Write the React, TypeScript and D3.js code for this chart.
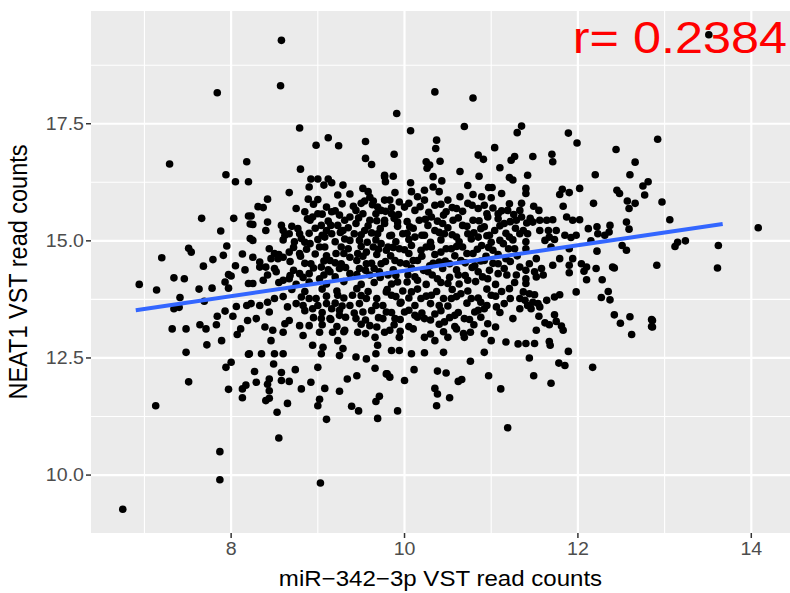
import React from 'react';
import * as d3 from 'd3';

// points, grouped by area of the panel
const leftPoints: [number, number][] = [
  [7.84, 18.16], [7.29, 16.64], [7.94, 16.41], [8.18, 16.69], [8.05, 16.26], [8.2, 16.26],
  [7.66, 15.48], [8.03, 15.48], [8.2, 15.53], [7.88, 15.21], [8.22, 15.36], [7.51, 14.84],
  [7.54, 14.76], [7.2, 14.64], [7.79, 14.6], [7.91, 14.69], [7.95, 14.89], [7.68, 14.46],
  [8.05, 14.47], [8.13, 14.72], [8.22, 15.05], [8.16, 14.38], [6.94, 14.07], [7.14, 13.95],
  [7.34, 14.21], [7.46, 14.19], [7.63, 13.97], [7.78, 13.99], [7.93, 14.12], [7.97, 14.28],
  [8.0, 14.25], [7.97, 13.99], [8.2, 14.09], [7.41, 13.79], [7.69, 13.71], [7.34, 13.55],
  [7.4, 13.58], [7.93, 13.5], [8.06, 13.6], [8.18, 13.62], [7.84, 13.39], [8.02, 13.39],
  [8.19, 13.3], [7.32, 13.12], [7.48, 13.12], [7.64, 13.21], [7.71, 13.12], [7.83, 13.21],
  [8.11, 13.12], [8.07, 13.0], [7.72, 12.78], [7.89, 12.87], [7.48, 12.62], [8.2, 12.58],
  [8.0, 12.41], [7.94, 12.3], [7.51, 11.99], [7.97, 11.83], [8.13, 11.84], [8.17, 11.92],
  [8.13, 11.65], [7.13, 11.48], [7.87, 10.5], [7.87, 9.9], [6.75, 9.27],
];

const upperMidPoints: [number, number][] = [
  [8.58, 19.28], [8.57, 18.31], [8.79, 17.41], [8.98, 17.04], [9.12, 17.2], [9.24, 17.03],
  [9.55, 17.12], [9.55, 16.76], [9.62, 16.63], [8.8, 16.53], [9.77, 16.37], [9.78, 16.26],
  [8.92, 16.32], [9.0, 16.32], [9.12, 16.32], [9.16, 16.24], [9.29, 16.19], [8.9, 16.15],
  [9.07, 16.19], [8.67, 16.03], [8.89, 15.89], [9.0, 15.88], [9.23, 15.98], [9.37, 16.0],
  [9.52, 16.12], [9.58, 16.05], [9.6, 15.93], [9.54, 15.85], [9.64, 15.85], [8.42, 15.89],
  [8.31, 15.73], [8.37, 15.71], [8.75, 15.69], [8.23, 15.53], [8.25, 15.35], [8.42, 15.4],
  [8.4, 15.22], [8.58, 15.33], [8.6, 15.22], [8.67, 15.15], [8.62, 15.12], [8.77, 15.26],
  [8.79, 15.15], [8.81, 15.05], [8.73, 14.98], [8.91, 15.44], [8.94, 15.51], [9.0, 15.58],
  [9.16, 15.62], [9.25, 15.55], [9.04, 15.33], [9.1, 15.22], [9.08, 15.08], [9.16, 15.15],
  [9.23, 15.33], [9.29, 15.22], [9.31, 15.44], [9.37, 15.51], [9.44, 15.37], [9.42, 15.15],
  [9.37, 15.01], [9.48, 15.01], [9.54, 15.22], [9.6, 15.44], [9.67, 15.58], [9.73, 15.65],
  [9.77, 15.37], [9.69, 15.15], [9.73, 14.94], [9.79, 14.8], [9.64, 14.87], [9.56, 14.76],
  [9.46, 14.73], [9.37, 14.65], [9.27, 14.87], [9.21, 14.73], [9.14, 14.58], [9.02, 14.87],
  [8.91, 14.94], [8.79, 14.73], [8.67, 14.76], [8.6, 14.65], [8.5, 14.73], [8.44, 14.83],
  [8.46, 14.62], [8.54, 14.62], [8.33, 14.55], [8.25, 14.65], [8.25, 15.01], [8.33, 14.44],
  [8.4, 14.44], [8.92, 14.51], [9.04, 14.44], [9.27, 14.51], [9.56, 14.51], [9.73, 14.51],
  [9.44, 15.65], [9.5, 15.8], [9.69, 15.72], [9.77, 15.87],
];

const lowerMidPoints: [number, number][] = [
  [8.37, 14.16], [8.42, 14.27], [8.52, 14.34], [8.6, 14.16], [8.67, 14.19], [8.79, 14.3],
  [8.9, 14.3], [9.02, 14.19], [9.14, 14.34], [9.25, 14.41], [9.37, 14.3], [9.48, 14.41],
  [9.6, 14.27], [9.71, 14.34], [8.25, 14.09], [8.23, 13.66], [8.33, 13.62], [8.42, 13.69],
  [8.5, 13.77], [8.44, 13.48], [8.29, 13.34], [8.39, 13.16], [8.48, 13.09], [8.46, 12.87],
  [8.6, 13.05], [8.62, 13.23], [8.65, 13.59], [8.67, 13.3], [8.81, 13.8], [8.83, 13.62],
  [8.79, 13.19], [8.83, 12.98], [8.9, 13.19], [8.94, 13.55], [8.98, 13.77], [8.94, 12.77],
  [9.04, 13.34], [9.02, 13.05], [9.06, 12.73], [9.1, 13.66], [9.14, 13.34], [9.17, 13.05],
  [9.16, 13.55], [9.23, 13.84], [9.25, 13.41], [9.23, 12.87], [9.29, 12.7], [9.31, 13.09],
  [9.37, 13.62], [9.4, 13.84], [9.44, 13.34], [9.46, 13.05], [9.52, 13.48], [9.56, 13.77],
  [9.6, 13.19], [9.67, 13.62], [9.66, 12.94], [9.69, 12.77], [9.75, 13.34], [9.77, 13.05],
  [9.79, 13.91], [8.21, 12.59], [8.35, 12.59], [8.5, 12.59], [8.6, 12.59], [9.04, 12.59],
  [9.25, 12.55], [9.44, 12.52], [9.56, 12.48], [9.67, 12.59], [8.49, 12.37], [8.27, 12.21],
  [8.58, 12.19], [8.29, 11.98], [8.42, 11.94], [8.44, 11.8], [8.58, 12.02], [8.67, 12.0],
  [8.74, 12.25], [8.81, 11.84], [8.92, 11.98], [9.0, 12.3], [9.08, 11.85], [9.02, 11.62],
  [9.0, 11.48], [9.1, 11.19], [9.25, 11.79], [9.34, 12.05], [9.45, 12.12], [9.66, 12.28],
  [9.79, 12.16], [9.39, 11.47], [9.47, 11.37], [9.67, 11.57], [9.71, 11.68], [9.69, 11.21],
  [8.4, 11.59], [8.44, 11.64], [8.65, 11.53], [8.53, 11.34], [8.55, 10.79], [9.03, 9.83],
  [8.44, 12.05],
];

const upperCenterPoints: [number, number][] = [
  [9.91, 17.72], [10.35, 18.18], [10.79, 18.05], [10.07, 17.35], [10.69, 17.44], [11.35, 17.45],
  [11.3, 17.31], [10.37, 17.15], [10.36, 16.97], [9.88, 16.85], [10.25, 16.69], [10.29, 16.62],
  [10.26, 16.55], [10.41, 16.7], [10.64, 16.48], [10.85, 16.83], [10.91, 16.74], [11.04, 16.99],
  [11.1, 16.56], [10.86, 16.38], [11.23, 16.72], [11.27, 16.8], [11.21, 16.35], [11.25, 16.3],
  [9.77, 16.4], [9.87, 16.38], [10.07, 16.24], [10.33, 16.37], [10.43, 16.28], [10.73, 16.18],
  [10.97, 16.14], [11.01, 16.14], [11.12, 16.01], [10.79, 15.99], [10.64, 15.94], [11.0, 15.92],
  [9.89, 16.03], [10.08, 16.05], [10.23, 16.08], [10.33, 16.15], [10.4, 16.05], [9.83, 15.87],
  [9.94, 15.83], [10.15, 15.94], [10.5, 15.87], [10.89, 15.94], [10.92, 15.76], [11.35, 15.8],
  [11.19, 15.65], [11.08, 15.58], [10.96, 15.51], [10.85, 15.69], [10.73, 15.8], [10.6, 15.69],
  [10.48, 15.62], [10.35, 15.76], [10.23, 15.87], [10.12, 15.65], [10.0, 15.72], [9.85, 15.58],
  [9.77, 15.44], [9.92, 15.4], [10.06, 15.3], [10.17, 15.44], [10.31, 15.51], [10.44, 15.37],
  [10.56, 15.44], [10.67, 15.33], [10.79, 15.44], [10.92, 15.3], [11.04, 15.22], [11.15, 15.37],
  [11.29, 15.44], [11.33, 15.15], [11.21, 15.08], [11.1, 15.01], [10.98, 15.12], [10.85, 15.08],
  [10.73, 15.15], [10.6, 15.08], [10.46, 15.15], [10.35, 15.22], [10.23, 15.12], [10.12, 15.08],
  [9.98, 15.15], [9.85, 15.12], [9.81, 14.87], [9.94, 14.83], [10.08, 14.9], [10.19, 14.8],
  [10.31, 14.87], [10.42, 14.76], [10.54, 14.83], [10.67, 14.87], [10.79, 14.73], [10.89, 14.9],
  [11.02, 14.8], [11.14, 14.94], [11.27, 14.83], [9.89, 14.58], [10.02, 14.51], [10.15, 14.58],
  [10.29, 14.47], [10.4, 14.55], [10.52, 14.51], [10.65, 14.58], [10.81, 14.47], [10.92, 14.58],
  [11.08, 14.51], [11.17, 14.62],
];

const lowerCenterPoints: [number, number][] = [
  [9.81, 14.27], [9.92, 14.12], [10.04, 14.27], [10.15, 14.16], [10.27, 14.34], [10.38, 14.19],
  [10.5, 14.09], [10.62, 14.27], [10.73, 14.16], [10.85, 14.34], [10.96, 14.19], [11.08, 14.3],
  [11.21, 13.98], [11.29, 14.27], [9.85, 13.84], [9.96, 13.69], [10.08, 13.91], [10.19, 13.77],
  [10.31, 13.84], [10.4, 13.62], [10.54, 13.77], [10.65, 13.87], [10.77, 13.77], [10.88, 13.69],
  [11.0, 13.84], [11.06, 13.59], [10.92, 13.55], [10.81, 13.48], [10.69, 13.34], [10.58, 13.41],
  [10.46, 13.27], [10.35, 13.44], [10.23, 13.34], [10.12, 13.41], [10.0, 13.48], [9.89, 13.34],
  [9.79, 13.48], [9.83, 13.09], [9.94, 12.94], [10.1, 13.12], [10.23, 12.94], [10.35, 12.87],
  [10.5, 12.94], [10.6, 13.12], [10.69, 12.94], [10.76, 13.05], [10.92, 13.02], [10.96, 13.23],
  [11.0, 12.87], [10.92, 12.62], [11.17, 12.84], [11.25, 13.34], [11.31, 12.8], [11.33, 13.55],
  [9.85, 12.66], [9.94, 12.66], [10.08, 12.59], [10.23, 12.61], [10.45, 12.62], [10.76, 12.43],
  [9.8, 12.16], [9.83, 12.09], [10.0, 12.02], [10.11, 12.25], [10.38, 12.22], [10.48, 12.18],
  [10.62, 12.0], [10.66, 12.04], [10.97, 12.12], [11.11, 11.84], [10.35, 11.85], [10.38, 11.73],
  [10.52, 11.65], [10.37, 11.48], [9.92, 11.37], [11.19, 11.01],
];

// the dense core, where single dots merge
const corePoints: [number, number][] = [
  [8.95, 15.78], [9.1, 15.72], [9.28, 15.79], [9.41, 15.74], [9.63, 15.77], [9.85, 15.71], [10.05, 15.8],
  [10.18, 15.73], [10.42, 15.78], [10.55, 15.71], [10.78, 15.76], [11.02, 15.7], [11.21, 15.79],
  [8.85, 15.62], [9.05, 15.57], [9.2, 15.64], [9.52, 15.58], [9.78, 15.63], [9.93, 15.56], [10.28, 15.61],
  [10.45, 15.55], [10.67, 15.63], [10.95, 15.58], [11.12, 15.64], [11.26, 15.56],
  [8.88, 15.47], [9.12, 15.42], [9.47, 15.49], [9.68, 15.43], [9.88, 15.48], [10.03, 15.41], [10.24, 15.46],
  [10.38, 15.42], [10.62, 15.49], [10.86, 15.43], [11.08, 15.47], [11.22, 15.41], [11.45, 15.48],
  [8.7, 15.31], [8.97, 15.27], [9.15, 15.33], [9.35, 15.28], [9.58, 15.32], [9.72, 15.26], [9.92, 15.31],
  [10.1, 15.27], [10.27, 15.33], [10.5, 15.28], [10.72, 15.31], [10.88, 15.26], [11.1, 15.32], [11.28, 15.27],
  [8.9, 15.16], [9.05, 15.12], [9.26, 15.18], [9.5, 15.13], [9.62, 15.17], [9.83, 15.11], [10.03, 15.16],
  [10.2, 15.12], [10.4, 15.18], [10.55, 15.13], [10.8, 15.17], [10.95, 15.11], [11.17, 15.16],
  [8.6, 15.02], [8.85, 14.97], [9.0, 15.03], [9.2, 14.98], [9.31, 15.04], [9.57, 14.97], [9.67, 15.02],
  [9.9, 14.98], [10.05, 15.03], [10.3, 14.97], [10.42, 15.02], [10.63, 14.98], [10.77, 15.04], [11.0, 14.97],
  [11.25, 15.02],
  [8.72, 14.86], [8.87, 14.82], [9.08, 14.87], [9.35, 14.83], [9.5, 14.88], [9.7, 14.82], [9.87, 14.86],
  [10.0, 14.81], [10.25, 14.87], [10.48, 14.83], [10.6, 14.88], [10.84, 14.82], [10.97, 14.86], [11.2, 14.83],
  [8.55, 14.71], [8.8, 14.67], [8.97, 14.72], [9.1, 14.68], [9.3, 14.73], [9.52, 14.67], [9.68, 14.71],
  [9.84, 14.68], [10.05, 14.73], [10.2, 14.67], [10.35, 14.71], [10.58, 14.68], [10.72, 14.73], [10.94, 14.67],
  [11.08, 14.71], [11.3, 14.68],
  [8.68, 14.56], [8.85, 14.52], [9.07, 14.57], [9.2, 14.53], [9.45, 14.58], [9.62, 14.52], [9.78, 14.56],
  [9.95, 14.53], [10.1, 14.58], [10.33, 14.52], [10.47, 14.57], [10.7, 14.53], [10.88, 14.57], [11.02, 14.52],
  [11.22, 14.56],
  [8.5, 14.41], [8.72, 14.37], [8.95, 14.42], [9.12, 14.38], [9.32, 14.43], [9.55, 14.37], [9.65, 14.41],
  [9.87, 14.38], [10.08, 14.42], [10.22, 14.37], [10.44, 14.41], [10.6, 14.38], [10.78, 14.43], [10.98, 14.37],
  [11.15, 14.41],
  [8.68, 14.26], [8.83, 14.22], [9.07, 14.27], [9.2, 14.23], [9.45, 14.28], [9.72, 14.22], [9.9, 14.26],
  [10.12, 14.23], [10.32, 14.27], [10.52, 14.22], [10.7, 14.26], [10.9, 14.23], [11.18, 14.27],
  [8.55, 14.11], [8.75, 14.07], [8.9, 14.12], [9.1, 14.08], [9.3, 14.13], [9.5, 14.07], [9.65, 14.11],
  [9.85, 14.08], [10.03, 14.12], [10.25, 14.07], [10.42, 14.11], [10.63, 14.08], [10.82, 14.13], [11.05, 14.07],
  [11.27, 14.11],
  [8.7, 13.96], [8.85, 13.92], [9.05, 13.97], [9.22, 13.93], [9.45, 13.98], [9.58, 13.92], [9.8, 13.96],
  [9.98, 13.93], [10.15, 13.97], [10.37, 13.92], [10.55, 13.96], [10.73, 13.93], [10.95, 13.97], [11.12, 13.92],
  [8.6, 13.81], [8.9, 13.77], [9.1, 13.82], [9.3, 13.78], [9.5, 13.83], [9.68, 13.77], [9.9, 13.81],
  [10.05, 13.78], [10.25, 13.82], [10.45, 13.77], [10.6, 13.81], [10.85, 13.78], [11.05, 13.82], [11.22, 13.77],
  [8.75, 13.66], [9.0, 13.62], [9.2, 13.67], [9.28, 13.61], [9.48, 13.66], [9.75, 13.62], [9.95, 13.67],
  [10.12, 13.62], [10.3, 13.66], [10.5, 13.61], [10.72, 13.67], [10.95, 13.62], [11.15, 13.66],
  [8.85, 13.51], [9.05, 13.47], [9.25, 13.52], [9.42, 13.46], [9.62, 13.51], [9.85, 13.47], [10.05, 13.52],
  [10.2, 13.46], [10.42, 13.51], [10.62, 13.47], [10.85, 13.52], [11.1, 13.47],
  [8.95, 13.36], [9.15, 13.32], [9.32, 13.37], [9.55, 13.31], [9.7, 13.36], [9.95, 13.32], [10.15, 13.37],
  [10.3, 13.31], [10.52, 13.36], [10.75, 13.32], [10.88, 13.37],
  [9.05, 13.21], [9.22, 13.17], [9.5, 13.22], [9.68, 13.16], [9.88, 13.21], [10.05, 13.17], [10.4, 13.22],
  [10.58, 13.17], [10.8, 13.21], [11.05, 13.16],
  [9.3, 13.06], [9.55, 13.02], [9.95, 13.07], [10.3, 13.01], [10.45, 13.06], [10.68, 13.02],
];

const rightPoints: [number, number][] = [
  [11.89, 17.3], [11.99, 17.09], [12.44, 16.95], [12.92, 17.17], [11.48, 16.8], [11.7, 16.85],
  [11.71, 16.69], [12.66, 16.68], [12.2, 16.41], [12.6, 16.41], [11.42, 16.4], [12.81, 16.26],
  [12.75, 16.17], [12.77, 15.98], [11.4, 16.12], [11.4, 16.01], [11.82, 16.1], [11.79, 15.99],
  [11.9, 16.03], [12.02, 16.12], [12.45, 16.08], [12.48, 16.01], [12.18, 15.8], [12.57, 15.85],
  [12.59, 15.69], [12.66, 15.8], [11.49, 15.74], [11.55, 15.65], [11.33, 15.65], [11.35, 15.51],
  [11.83, 15.74], [11.87, 15.51], [11.94, 15.44], [12.02, 15.45], [11.71, 15.45], [11.64, 15.44],
  [11.56, 15.44], [11.48, 15.4], [11.41, 15.38], [11.37, 15.22], [11.42, 15.15], [11.56, 15.22],
  [11.66, 15.22], [11.75, 15.22], [11.67, 15.08], [11.62, 15.01], [11.73, 15.03], [11.85, 15.12],
  [11.92, 15.07], [11.98, 15.12], [12.12, 15.26], [12.22, 15.3], [12.23, 15.15], [12.37, 15.33],
  [12.36, 15.19], [12.56, 15.4], [12.59, 15.25], [12.15, 15.0], [12.22, 14.78], [12.31, 15.12],
  [12.51, 14.9], [12.56, 14.8], [11.4, 14.98], [11.4, 14.83], [11.69, 14.87], [11.79, 14.62],
  [11.9, 14.83], [11.94, 14.62], [11.52, 14.62], [12.04, 14.51], [12.1, 14.44], [12.4, 14.44],
  [11.33, 14.44], [11.44, 14.51], [11.4, 14.37], [11.5, 14.34], [11.58, 14.41], [11.6, 14.27],
  [11.4, 14.19], [11.4, 14.09], [11.52, 14.23], [11.71, 14.48], [11.9, 14.48], [11.9, 14.32],
  [12.07, 14.35], [12.21, 14.41], [12.42, 14.42], [12.1, 14.17], [12.28, 14.17], [11.98, 13.91],
  [12.35, 13.92], [12.27, 13.79], [12.37, 13.74], [11.37, 13.91], [11.44, 13.87], [11.5, 13.85],
  [11.33, 13.77], [11.39, 13.73], [11.42, 13.62], [11.48, 13.69], [11.54, 13.66], [11.56, 13.59],
  [11.64, 13.73], [11.73, 13.8], [11.79, 13.85], [11.46, 13.55], [11.55, 13.39], [11.73, 13.42],
  [11.75, 13.28], [11.62, 13.25], [11.67, 13.21], [11.81, 13.18], [11.83, 13.09], [11.52, 13.09],
  [12.42, 13.42], [12.49, 13.24], [12.6, 13.38], [12.62, 13.0], [12.85, 13.32], [12.85, 13.17],
  [11.4, 12.81], [11.5, 12.81], [11.67, 12.85], [11.68, 12.77], [11.89, 12.64], [11.44, 12.5],
  [11.78, 12.39], [11.85, 12.34], [12.17, 12.3], [11.49, 12.12], [11.69, 11.96],
  [13.51, 19.4], [12.97, 15.83], [13.06, 15.45], [14.08, 15.28], [13.12, 14.88], [13.15, 14.97],
  [13.24, 15.0], [13.62, 14.9], [12.91, 14.48], [13.61, 14.42], [12.86, 13.3], [12.86, 13.16],
];

const allPoints = [
  ...leftPoints, ...upperMidPoints, ...lowerMidPoints,
  ...upperCenterPoints, ...lowerCenterPoints, ...corePoints, ...rightPoints,
];

// lm fit line ends (geom_smooth)
const fitX = [6.9, 13.67];
const fitY = [13.52, 15.36];

const xTicks = [8, 10, 12, 14];
const xMinor = [7, 9, 11, 13];
const yTicks = [10, 12.5, 15, 17.5];
const yMinor = [11.25, 13.75, 16.25, 18.75];

const corrLabel = 'r= 0.2384';
const xTitle = 'miR\u2212342\u22123p VST read counts';
const yTitle = 'NEAT1 VST read counts';

const W = 790;
const H = 593;
const panel = { left: 91, right: 790, top: 11, bottom: 533 };
// the reference text is a bit wider than the font draws it
const stretch = 1.12;

const expand = (ext: [number, number]) => {
  const pad = (ext[1] - ext[0]) * 0.05;
  return [ext[0] - pad, ext[1] + pad];
};

export default function App() {
  const xScale = d3.scaleLinear()
    .domain(expand(d3.extent(allPoints, d => d[0]) as [number, number]))
    .range([panel.left, panel.right]);
  const yScale = d3.scaleLinear()
    .domain(expand(d3.extent(allPoints, d => d[1]) as [number, number]))
    .range([panel.bottom, panel.top]);

  const fitLine = d3.line<number>()
    .x(i => xScale(fitX[i]))
    .y(i => yScale(fitY[i]));

  const font = '"Liberation Sans", Arial, sans-serif';

  return (
    <svg width={W} height={H} style={{ position: 'absolute', left: 0, top: 0, background: '#fff' }}>
      <rect x={panel.left} y={panel.top} width={panel.right - panel.left} height={panel.bottom - panel.top} fill="#EBEBEB" />
      {yMinor.map(v => (
        <line key={'ym' + v} x1={panel.left} x2={panel.right} y1={yScale(v)} y2={yScale(v)} stroke="#fff" strokeWidth={1.1} />
      ))}
      {xMinor.map(v => (
        <line key={'xm' + v} x1={xScale(v)} x2={xScale(v)} y1={panel.top} y2={panel.bottom} stroke="#fff" strokeWidth={1.1} />
      ))}
      {yTicks.map(v => (
        <line key={'yg' + v} x1={panel.left} x2={panel.right} y1={yScale(v)} y2={yScale(v)} stroke="#fff" strokeWidth={2.2} />
      ))}
      {xTicks.map(v => (
        <line key={'xg' + v} x1={xScale(v)} x2={xScale(v)} y1={panel.top} y2={panel.bottom} stroke="#fff" strokeWidth={2.2} />
      ))}

      <g fill="#000">
        {allPoints.map((d, i) => (
          <circle key={i} cx={xScale(d[0])} cy={yScale(d[1])} r={3.8} />
        ))}
      </g>

      <path d={fitLine([0, 1]) || ''} fill="none" stroke="#3366FF" strokeWidth={4} />

      <text transform={`translate(787,53) scale(${stretch},1)`} textAnchor="end" fill="#FF0000" fontFamily={font} fontSize={45}>{corrLabel}</text>

      {xTicks.map(v => (
        <g key={'xt' + v}>
          <line x1={xScale(v)} x2={xScale(v)} y1={panel.bottom} y2={panel.bottom + 5} stroke="#333" strokeWidth={1.5} />
          <text transform={`translate(${xScale(v)},${panel.bottom + 22}) scale(${stretch},1)`} textAnchor="middle" fill="#4D4D4D" fontFamily={font} fontSize={17.5}>{v}</text>
        </g>
      ))}
      {yTicks.map(v => (
        <g key={'yt' + v}>
          <line x1={panel.left - 5} x2={panel.left} y1={yScale(v)} y2={yScale(v)} stroke="#333" strokeWidth={1.5} />
          <text transform={`translate(${panel.left - 7},${yScale(v) + 6}) scale(${stretch},1)`} textAnchor="end" fill="#4D4D4D" fontFamily={font} fontSize={17.5}>{v.toFixed(1)}</text>
        </g>
      ))}

      <text transform={`translate(${(panel.left + panel.right) / 2},586) scale(${stretch},1)`} textAnchor="middle" fill="#000" fontFamily={font} fontSize={21.5}>{xTitle}</text>
      <text transform={`translate(27,${(panel.top + panel.bottom) / 2}) scale(${stretch},1) rotate(-90)`} textAnchor="middle" fill="#000" fontFamily={font} fontSize={23.5}>{yTitle}</text>
    </svg>
  );
}
